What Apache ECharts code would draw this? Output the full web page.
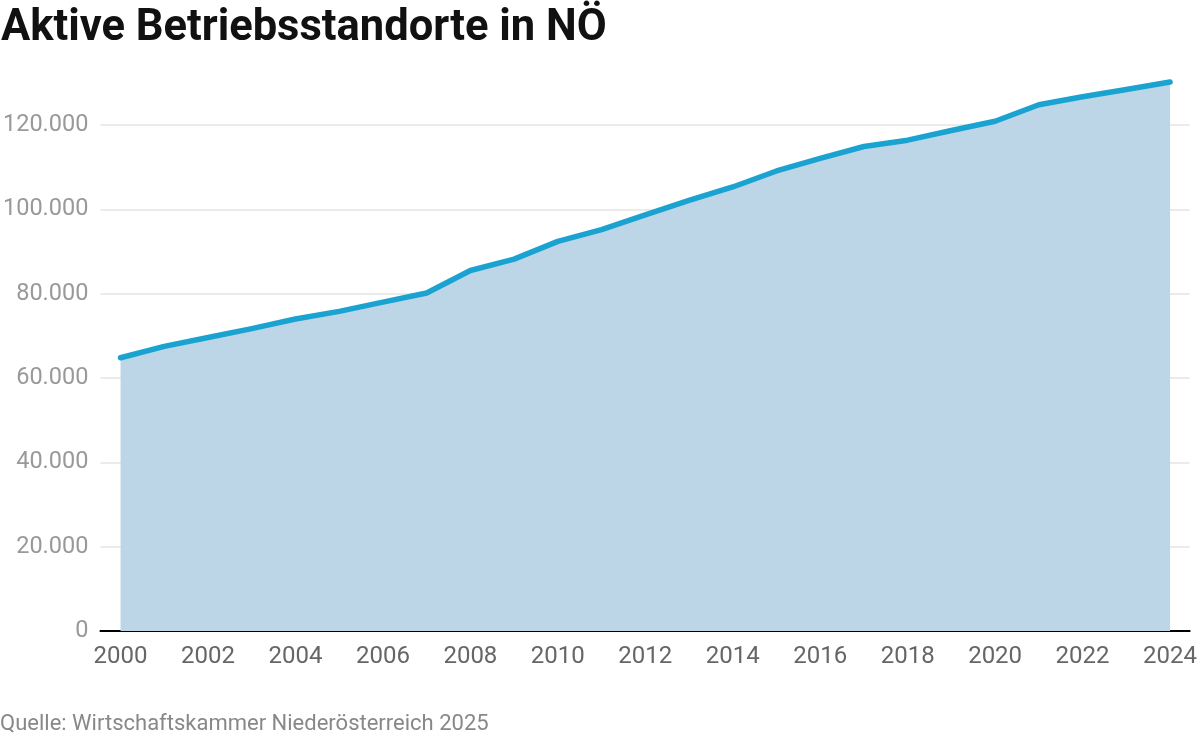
<!DOCTYPE html>
<html>
<head>
<meta charset="utf-8">
<script src="https://cdn.jsdelivr.net/npm/echarts@6/dist/echarts.min.js"></script>
<style>
  html, body { margin: 0; padding: 0; background: #fff; }
  #chart { width: 1200px; height: 738px; }
</style>
</head>
<body>
<div id="chart"></div>
<script>
// Aktive Betriebsstandorte, Niederösterreich, 2000-2024
let years = [2000, 2001, 2002, 2003, 2004, 2005, 2006, 2007, 2008, 2009, 2010, 2011, 2012,
    2013, 2014, 2015, 2016, 2017, 2018, 2019, 2020, 2021, 2022, 2023, 2024];
let standorte = [64800, 67500, 69600, 71700, 74000, 75800, 78000, 80150, 85500, 88200, 92400, 95200, 98700,
    102100, 105300, 109100, 112100, 114900, 116400, 118700, 120900, 124800, 126700, 128400, 130200];
let yearLabels = [2000, 2002, 2004, 2006, 2008, 2010, 2012, 2014, 2016, 2018, 2020, 2022, 2024];

let font = 'Roboto';

function fmt(v) {
    return String(v).replace(/\B(?=(\d{3})+(?!\d))/g, '.');
}

let option = {
    animation: false,
    title: [
        {
            text: 'Aktive Betriebsstandorte in NÖ',
            left: 1,
            top: 7,
            padding: 0,
            textStyle: { fontFamily: font, fontWeight: 'bold', fontSize: 43.5, color: '#111' }
        },
        {
            text: 'Quelle: Wirtschaftskammer Niederösterreich 2025',
            left: 0,
            bottom: 3,
            padding: 0,
            textStyle: { fontFamily: font, fontWeight: 'normal', fontSize: 22, color: '#888' }
        }
    ],
    grid: {
        left: 100,
        right: 6,
        top: 125,
        bottom: 107
    },
    xAxis: {
        type: 'value',
        min: 1999.54,
        max: 2024.45,
        splitLine: { show: false },
        axisTick: { show: false },
        axisLine: { show: true, lineStyle: { color: '#000', width: 2 } },
        axisLabel: {
            customValues: yearLabels,
            formatter: function (v) { return String(v); },
            color: '#666',
            fontFamily: font,
            fontSize: 24,
            margin: 14
        }
    },
    yAxis: {
        type: 'value',
        min: 0,
        max: 120000,
        interval: 20000,
        axisLine: { show: false },
        axisTick: { show: false },
        splitLine: { lineStyle: { color: '#e5e5e5', width: 1.5 } },
        axisLabel: {
            formatter: fmt,
            color: '#999',
            fontFamily: font,
            fontSize: 23.5,
            margin: 12
        }
    },
    series: [{
        type: 'line',
        data: years.map(function (y, i) { return [y, standorte[i]]; }),
        clip: false,
        symbol: 'none',
        lineStyle: { color: '#1aa3d1', width: 5.5, cap: 'round', join: 'round' },
        areaStyle: { color: '#bcd6e8', opacity: 1 },
        z: 1
    }]
};

echarts.init(document.getElementById('chart')).setOption(option);
</script>
</body>
</html>
